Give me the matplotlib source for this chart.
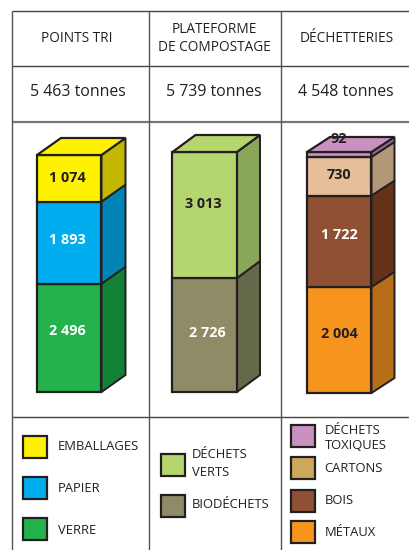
import matplotlib
matplotlib.use('Agg')
import matplotlib.pyplot as plt
from matplotlib.patches import Polygon, Rectangle

plt.rcParams['font.family'] = ['Open Sans', 'DejaVu Sans']

# data, bottom to top of each stack
headers = ['POINTS TRI', 'PLATEFORME\nDE COMPOSTAGE', 'DÉCHETTERIES']
totals = [5463, 5739, 4548]
totals_txt = ['5 463 tonnes', '5 739 tonnes', '4 548 tonnes']
tri_values = [2496, 1893, 1074]
compost_values = [2726, 3013]
dechet_values = [2004, 1722, 730, 92]
tri_labels = ['2 496', '1 893', '1 074']
compost_labels = ['2 726', '3 013']
dechet_labels = ['2 004', '1 722', '730', '92']
tri_names = ['VERRE', 'PAPIER', 'EMBALLAGES']
compost_names = ['BIODÉCHETS', 'DÉCHETS\nVERTS']
dechet_names = ['MÉTAUX', 'BOIS', 'CARTONS', 'DÉCHETS\nTOXIQUES']

# styles
tri_front = ['#23B24B', '#00AEEF', '#FFF200']
tri_side = ['#128035', '#0083B5', '#C4B700']
compost_front = ['#8F8B66', '#B5D56F']
compost_side = ['#66684A', '#8AA65A']
dechet_front = ['#F7941D', '#8F5033', '#E6BE9A', '#C891C0']
dechet_side = ['#B86E18', '#633219', '#B09878', '#9A6D95']
dechet_legend = ['#F7941D', '#8F5033', '#CDA85C', '#C891C0']
ink = '#231F20'

fig = plt.figure(figsize=(4.1, 5.5), dpi=100)
ax = fig.add_axes([0, 0, 1, 1])
ax.set_xlim(0, 410)
ax.set_ylim(550, 0)
ax.axis('off')

# table grid
for y, c, w in [(11, '#444444', 1.0), (66, '#444444', 1.0), (122, '#777777', 1.6), (417, '#444444', 1.0)]:
    ax.plot([12, 410], [y, y], color=c, lw=w, solid_capstyle='butt')
for x in [12, 149, 281]:
    ax.plot([x, x], [11, 550], color='#555555', lw=1.0, solid_capstyle='butt')

head_x = [77, 214, 347]
head_y = [38.5, 38.5, 38.5]
for x, y, s in zip(head_x, head_y, headers):
    ax.text(x, y, s, ha='center', va='center', fontsize=9.8, color=ink, linespacing=1.2)
total_x = [78, 214, 346]
for x, s in zip(total_x, totals_txt):
    ax.text(x, 92, s, ha='center', va='center', fontsize=11.4, color=ink)


def stack(values, total, x0, bottom, height, dx, dy, front, side):
    # each column is scaled to its own total
    scale = height / total
    w = 64.5
    y = bottom
    for v, f, s in zip(values, front, side):
        top = y - v * scale
        ax.add_patch(Polygon([(x0 + w, y), (x0 + w + dx, y - dy), (x0 + w + dx, top - dy), (x0 + w, top)],
                             fc=s, ec=ink, lw=1.4, joinstyle='miter'))
        ax.bar(x0 + w / 2, top - y, w, y, color=f, edgecolor=ink, linewidth=1.6)
        y = top
    ax.add_patch(Polygon([(x0, y), (x0 + dx, y - dy), (x0 + w + dx, y - dy), (x0 + w, y)],
                         fc=front[-1], ec=ink, lw=1.6, joinstyle='miter'))


stack(tri_values, totals[0], 37, 392, 237, 24, 17, tri_front, tri_side)
stack(compost_values, totals[1], 172.5, 392, 240, 23, 17, compost_front, compost_side)
stack(dechet_values, totals[2], 307, 393, 241, 23, 15, dechet_front, dechet_side)

# value labels
tri_pos = [(67, 331), (67, 240), (67, 178)]
compost_pos = [(207, 333), (203, 204)]
dechet_pos = [(339, 334), (339, 235), (339, 175), (339, 139)]
tri_col = ['white', 'white', ink]
compost_col = ['white', ink]
dechet_col = [ink, 'white', ink, ink]
for labels, pos, cols in [(tri_labels, tri_pos, tri_col), (compost_labels, compost_pos, compost_col),
                          (dechet_labels, dechet_pos, dechet_col)]:
    for s, (x, y), c in zip(labels, pos, cols):
        ax.text(x, y, s, ha='center', va='center', fontsize=10.4, fontweight='bold', color=c, zorder=5)


def legend(x, ys, colors, names, y_text, gap, spacing):
    for y, c, n, yt in zip(ys, colors, names, y_text):
        ax.add_patch(Rectangle((x, y), 24, 22, fc=c, ec=ink, lw=1.6))
        ax.text(x + gap, yt, n, ha='left', va='center', fontsize=9.4, color=ink, linespacing=spacing)


legend(23.5, [518, 477, 436], tri_front, tri_names, [530, 488, 446], 34.5, 1.2)
legend(161.5, [495, 454], compost_front, compost_names, [505, 464], 30.5, 1.5)
legend(291.5, [521, 490, 457, 425], dechet_legend, dechet_names, [532, 500, 469, 438], 33, 1.25)

fig.savefig('out.png', dpi=100)
